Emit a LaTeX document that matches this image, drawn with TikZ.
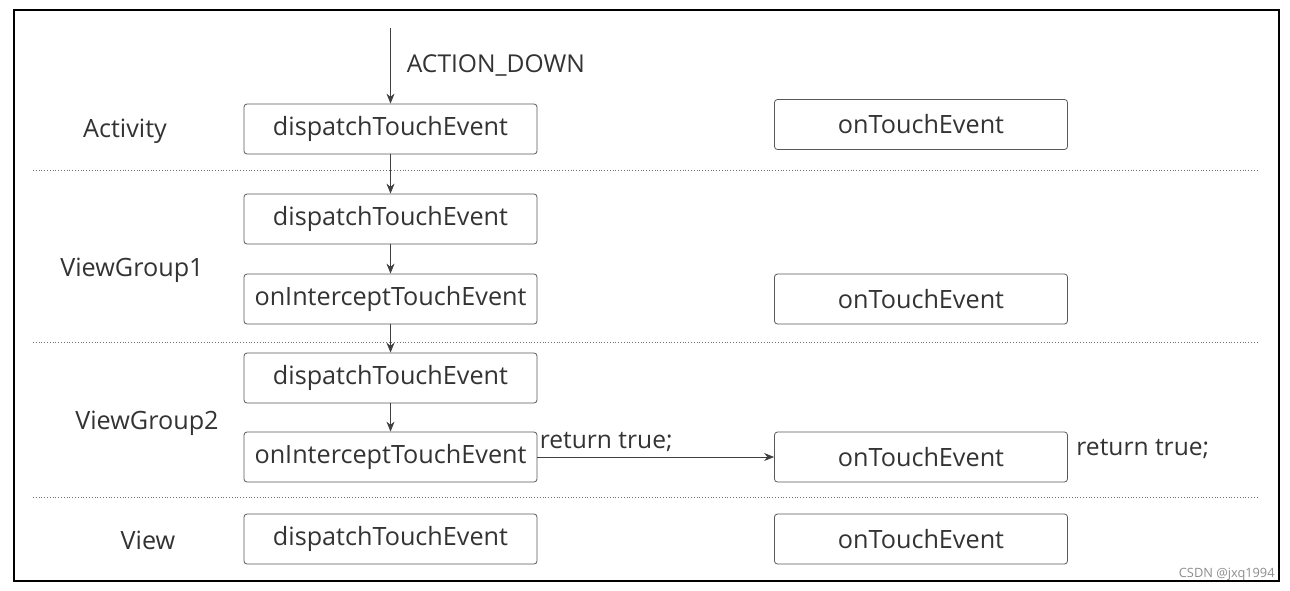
\documentclass[tikz,border=0pt]{standalone}
\usepackage{fontspec}
\setmainfont{Open Sans}
\usetikzlibrary{arrows.meta}

\begin{document}
\begin{tikzpicture}[x=0.5pt,y=-0.5pt,->,>={Stealth[length=5pt,width=4pt]},thin,
    fn node/.style={draw=black!65,rounded corners=1.5pt,minimum width=146.5pt,minimum height=25pt,inner sep=0pt,text=black!80,font=\fontsize{12.6}{15}\selectfont},
    layer node/.style={text=black!80,font=\fontsize{12.6}{15}\selectfont},
    note node/.style={text=black!80,font=\fontsize{12.3}{15}\selectfont,inner sep=1pt},
    sep line/.style={-,densely dotted,draw=black!55}]
                \useasboundingbox (0,0) rectangle (1290,590);
                \draw[-,line width=1pt] (14,10) rectangle (1279,581);
                
                % layers
                \node[layer node] (activity) at (125,131) {Activity};
                \node[layer node] (viewgroup1) at (132,270) {ViewGroup1};
                \node[layer node] (viewgroup2) at (147,423) {ViewGroup2};
                \node[layer node] (view) at (148,540) {View};
                
                \draw[sep line] (33,170) -- (1258,170);
                \draw[sep line] (33,342) -- (1258,342);
                \draw[sep line] (33,497) -- (1258,497);
                
                % left column
                \coordinate (start) at (390.5,28);
                \node[fn node] (actDispatch) at (390.5,129) {dispatchTouchEvent};
                \node[fn node] (vg1Dispatch) at (390.5,219) {dispatchTouchEvent};
                \node[fn node] (vg1Intercept) at (390.5,299) {onInterceptTouchEvent};
                \node[fn node] (vg2Dispatch) at (390.5,378) {dispatchTouchEvent};
                \node[fn node] (vg2Intercept) at (390.5,457) {onInterceptTouchEvent};
                \node[fn node] (viewDispatch) at (390.5,539) {dispatchTouchEvent};
                
                % right column
                \node[fn node] (actTouch) at (921,124.5) {onTouchEvent};
                \node[fn node] (vg1Touch) at (921,299) {onTouchEvent};
                \node[fn node] (vg2Touch) at (921,457) {onTouchEvent};
                \node[fn node] (viewTouch) at (921,539) {onTouchEvent};
                
                \path[color=black!75]
                (start) edge node[note node,anchor=west,xshift=7pt,pos=0.5] {ACTION\_DOWN} (actDispatch)
                (actDispatch) edge (vg1Dispatch)
                (vg1Dispatch) edge (vg1Intercept)
                (vg1Intercept) edge (vg2Dispatch)
                (vg2Dispatch) edge (vg2Intercept)
                (vg2Intercept) edge node[note node,anchor=south west,pos=0,yshift=1.5pt] {return true;} (vg2Touch)
                ;
                
                \node[note node,anchor=west] (vg2Return) at (1074,449) {return true;};
                \node[anchor=east,text=black!45,font=\fontsize{6.4}{7}\selectfont,inner sep=0pt] (mark) at (1275,574) {CSDN @jxq1994};
\end{tikzpicture}
\end{document}
